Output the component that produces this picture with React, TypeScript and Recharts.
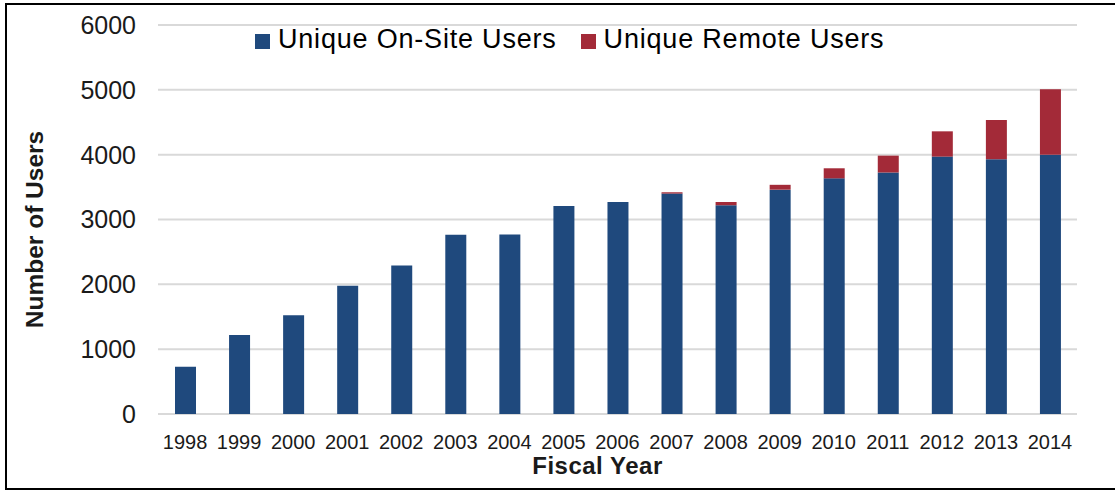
import { BarChart, Bar, XAxis, YAxis, CartesianGrid, Legend } from "recharts";

const years = [
  "1998", "1999", "2000", "2001", "2002", "2003", "2004", "2005", "2006",
  "2007", "2008", "2009", "2010", "2011", "2012", "2013", "2014",
];
const onSiteUsers = [
  730, 1220, 1525, 1980, 2290, 2765, 2770, 3210, 3270,
  3400, 3220, 3460, 3635, 3725, 3970, 3930, 4000,
];
const remoteUsers = [
  0, 0, 0, 0, 0, 0, 0, 0, 0,
  20, 50, 75, 155, 260, 390, 605, 1010,
];
const yTicks = [0, 1000, 2000, 3000, 4000, 5000, 6000];

const BLUE = "#1f497d";
const RED = "#a32a38";
const FONT = "'Liberation Sans', Arial, sans-serif";

const rows = years.map((year, i) => ({
  year,
  onSite: onSiteUsers[i],
  remote: remoteUsers[i],
}));

const legendItems = [
  { label: "Unique On-Site Users", color: BLUE },
  { label: "Unique Remote Users", color: RED },
];

function ChartLegend() {
  return (
    <div style={{ display: "flex", alignItems: "center", fontFamily: FONT, fontSize: 27, letterSpacing: 0.8, color: "#000" }}>
      {legendItems.map((item, i) => (
        <div key={item.label} style={{ display: "flex", alignItems: "center", marginRight: i === 0 ? 24 : 0 }}>
          <span style={{ width: 15, height: 15, background: item.color, marginRight: 8, marginTop: 4 }} />
          <span style={{ lineHeight: "30px" }}>{item.label}</span>
        </div>
      ))}
    </div>
  );
}

export default function App() {
  return (
    <div style={{ position: "absolute", left: 0, top: 0, width: 1115, height: 490, overflow: "hidden", background: "#fff" }}>
      <div
        style={{
          position: "absolute",
          left: 5,
          top: 3,
          width: 1130,
          height: 487,
          boxSizing: "border-box",
          border: "2px solid #000",
        }}
      />
      <BarChart
        width={1115}
        height={490}
        data={rows}
        barSize={21}
        margin={{ top: 25, right: 38, bottom: 26, left: 0 }}
        style={{ position: "absolute", left: 0, top: 0 }}
      >
        <CartesianGrid vertical={false} stroke="#d9d9d9" strokeWidth={2} />
        <XAxis
          dataKey="year"
          height={50}
          axisLine={false}
          tickLine={false}
          tickMargin={15}
          tick={{ fill: "#1a1a1a", fontSize: 20, fontFamily: FONT }}
          interval={0}
          label={{
            content: (props: any) => {
              const vb = props.viewBox;
              return (
                <text
                  x={vb.x + vb.width / 2 - 20}
                  y={vb.y + 60}
                  textAnchor="middle"
                  fontFamily={FONT}
                  fontWeight="bold"
                  fontSize={24}
                  letterSpacing={0.5}
                  fill="#1a1a1a"
                >
                  Fiscal Year
                </text>
              );
            },
          }}
        />
        <YAxis
          width={158}
          domain={[0, 6000]}
          ticks={yTicks}
          interval={0}
          axisLine={false}
          tickLine={false}
          tickSize={6}
          tickMargin={16}
          tick={{ fill: "#1a1a1a", fontSize: 25, fontFamily: FONT }}
          label={{
            content: (props: any) => {
              const vb = props.viewBox;
              const cx = vb.x + 34;
              const cy = vb.y + vb.height / 2 + 10;
              return (
                <text
                  x={cx}
                  y={cy}
                  transform={`rotate(-90 ${cx} ${cy})`}
                  textAnchor="middle"
                  dominantBaseline="central"
                  fontFamily={FONT}
                  fontWeight="bold"
                  fontSize={24.5}
                  fill="#1a1a1a"
                >
                  Number of Users
                </text>
              );
            },
          }}
        />
        <Legend
          verticalAlign="middle"
          align="center"
          content={() => <ChartLegend />}
          wrapperStyle={{ left: 255, top: 24, width: 720 }}
        />
        <Bar dataKey="onSite" name="Unique On-Site Users" stackId="users" fill={BLUE} isAnimationActive={false} />
        <Bar dataKey="remote" name="Unique Remote Users" stackId="users" fill={RED} isAnimationActive={false} />
      </BarChart>
    </div>
  );
}
